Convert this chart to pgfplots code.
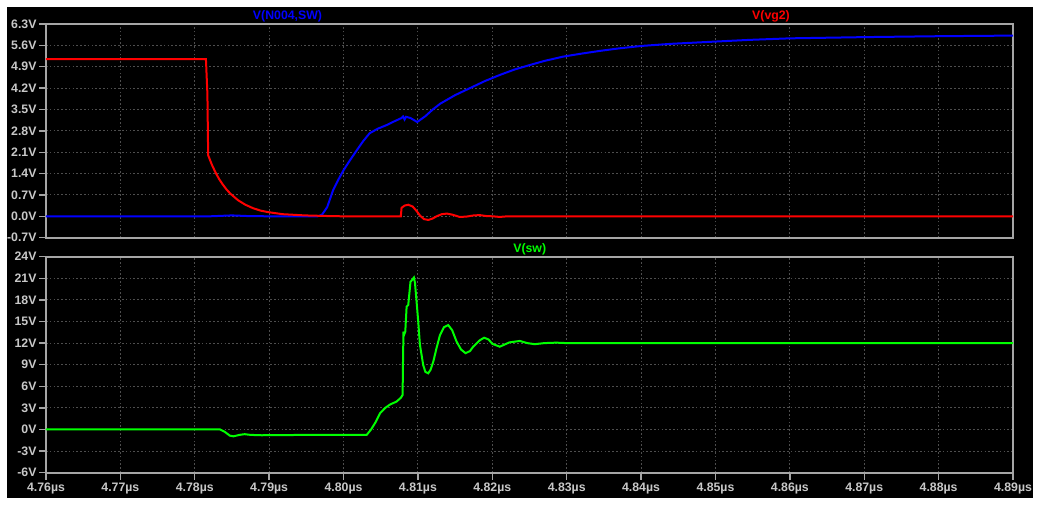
\documentclass[border=0pt]{standalone}
\usepackage{fontspec}
\setmainfont{Liberation Sans}
\usepackage{pgfplots}
\pgfplotsset{compat=1.18}
\definecolor{lblgray}{RGB}{200,200,200}
\definecolor{frmgray}{RGB}{165,165,165}
\definecolor{grdgray}{RGB}{78,78,78}
\definecolor{ltblue}{RGB}{0,0,255}
\definecolor{ltred}{RGB}{255,0,0}
\definecolor{ltgreen}{RGB}{0,255,0}
\pgfplotsset{ltstyle/.style={
  scale only axis, width=967pt, xmin=4.76, xmax=4.89,
  axis line style={frmgray, line width=1.8pt},
  grid=major, major grid style={grdgray, dash pattern=on 1.6pt off 2.2pt, line width=1.0pt},
  tick style={frmgray, line width=1.4pt},
  tick align=outside, major tick length=7pt,
  tick pos=left,
  xtick={4.76,4.77,4.78,4.79,4.80,4.81,4.82,4.83,4.84,4.85,4.86,4.87,4.88,4.89},
  ticklabel style={font=\fontsize{12.3}{14}\selectfont\bfseries, text=lblgray},
  yticklabel style={xshift=1pt},
  every axis plot/.append style={line width=2.0pt, no markers},
  axis background/.style={fill=black},
}}
\begin{document}
\begin{tikzpicture}[x=1pt,y=1pt]
\useasboundingbox (0,0) rectangle (1041,505);
\fill[white] (0,0) rectangle (1041,505);
\fill[black] (7,7) rectangle (1033,498);

\begin{axis}[ltstyle, at={(46pt,267.3pt)}, anchor=south west, height=213.7pt,
  ymin=-0.7, ymax=6.3,
  ytick={-0.7,0,0.7,1.4,2.1,2.8,3.5,4.2,4.9,5.6,6.3},
  yticklabels={-0.7V,0.0V,0.7V,1.4V,2.1V,2.8V,3.5V,4.2V,4.9V,5.6V,6.3V},
  xticklabels={}, xtick style={draw=none}]
\addplot[ltblue] coordinates {
(4.7600,0) (4.7820,0) (4.7850,0.03) (4.7870,0.01) (4.7900,0) (4.7965,0)
(4.7971,0.05) (4.7978,0.30) (4.7986,0.86) (4.7993,1.20) (4.8000,1.51)
(4.8009,1.85) (4.8018,2.17) (4.8026,2.45) (4.8035,2.72) (4.8046,2.87)
(4.8058,2.99) (4.8069,3.12) (4.8078,3.22) (4.8080,3.27) (4.8082,3.17)
(4.8084,3.26) (4.8090,3.22) (4.8099,3.09) (4.8110,3.28) (4.8120,3.50)
(4.8130,3.69) (4.8150,3.97) (4.8170,4.20) (4.8190,4.43) (4.8210,4.63)
(4.8230,4.81) (4.8251,4.96) (4.8270,5.09) (4.8295,5.23) (4.8320,5.33)
(4.8345,5.42) (4.8370,5.50) (4.8400,5.58) (4.8440,5.65) (4.8480,5.70)
(4.8546,5.78) (4.8600,5.83) (4.8700,5.87) (4.8800,5.90) (4.8900,5.92)
};
\addplot[ltred] coordinates {
(4.7600,5.15) (4.7815,5.15) (4.7817,4.00) (4.7818,2.00) (4.7823,1.69)
(4.7828,1.43) (4.7833,1.21) (4.7838,1.03) (4.7843,0.87) (4.7848,0.74)
(4.7858,0.53) (4.7868,0.38) (4.7878,0.27) (4.7888,0.19) (4.7898,0.14)
(4.7918,0.07) (4.7948,0.03) (4.7978,0.01) (4.8000,0) (4.8077,0)
(4.8078,0.28) (4.8082,0.35) (4.8087,0.38) (4.8093,0.32) (4.8098,0.18)
(4.8103,0.02) (4.8108,-0.09) (4.8114,-0.12) (4.8120,-0.07) (4.8125,0.0)
(4.8132,0.07) (4.8139,0.09) (4.8147,0.05) (4.8156,-0.02) (4.8165,-0.01)
(4.8175,0.03) (4.8183,0.04) (4.8192,0.01) (4.8201,0) (4.8210,-0.02)
(4.8220,0) (4.8900,0)
};
\end{axis}
\node[font=\fontsize{12.3}{14}\selectfont\bfseries, text=ltblue] at (287.5,489) {V(N004,SW)};
\node[font=\fontsize{12.3}{14}\selectfont\bfseries, text=ltred] at (771,489) {V(vg2)};

\begin{axis}[ltstyle, at={(46pt,32.3pt)}, anchor=south west, height=216pt,
  ymin=-6, ymax=24,
  ytick={-6,-3,0,3,6,9,12,15,18,21,24},
  yticklabels={-6V,-3V,0V,3V,6V,9V,12V,15V,18V,21V,24V},
  xticklabels={4.76µs,4.77µs,4.78µs,4.79µs,4.80µs,4.81µs,4.82µs,4.83µs,4.84µs,4.85µs,4.86µs,4.87µs,4.88µs,4.89µs}]
\addplot[ltgreen] coordinates {
(4.7600,0) (4.7834,0) (4.7840,-0.30) (4.7847,-0.85) (4.7852,-0.95)
(4.7860,-0.75) (4.7867,-0.65) (4.7875,-0.75) (4.7890,-0.80) (4.7950,-0.75)
(4.8031,-0.76) (4.8037,0.00) (4.8043,1.00) (4.8049,2.25) (4.8056,3.00)
(4.8063,3.50) (4.8071,3.86) (4.8077,4.40) (4.80794,4.80) (4.80800,10.0)
(4.80806,13.6) (4.80812,13.1) (4.80830,13.6) (4.80848,17.05) (4.80870,17.3)
(4.80900,20.5) (4.80923,20.8) (4.80946,21.1) (4.80960,20.4) (4.80982,17.75)
(4.81004,15.0) (4.81027,11.75) (4.81071,8.96) (4.81100,8.0) (4.81138,7.8)
(4.81170,8.3) (4.81206,9.4) (4.81250,11.3) (4.81296,13.1) (4.81350,14.2)
(4.81407,14.5) (4.81460,13.8) (4.81520,12.2) (4.81580,11.1) (4.81641,10.6)
(4.81700,10.9) (4.81743,11.5) (4.81833,12.4) (4.81890,12.75) (4.81950,12.5)
(4.82000,11.9) (4.82100,11.5) (4.82230,12.1) (4.82370,12.3) (4.82470,12.0)
(4.82570,11.85) (4.82700,12.0) (4.82860,12.06) (4.83000,12.0) (4.8900,12.0)
};
\end{axis}
\node[font=\fontsize{12.3}{14}\selectfont\bfseries, text=ltgreen] at (529.7,255.7) {V(sw)};
\end{tikzpicture}
\end{document}
